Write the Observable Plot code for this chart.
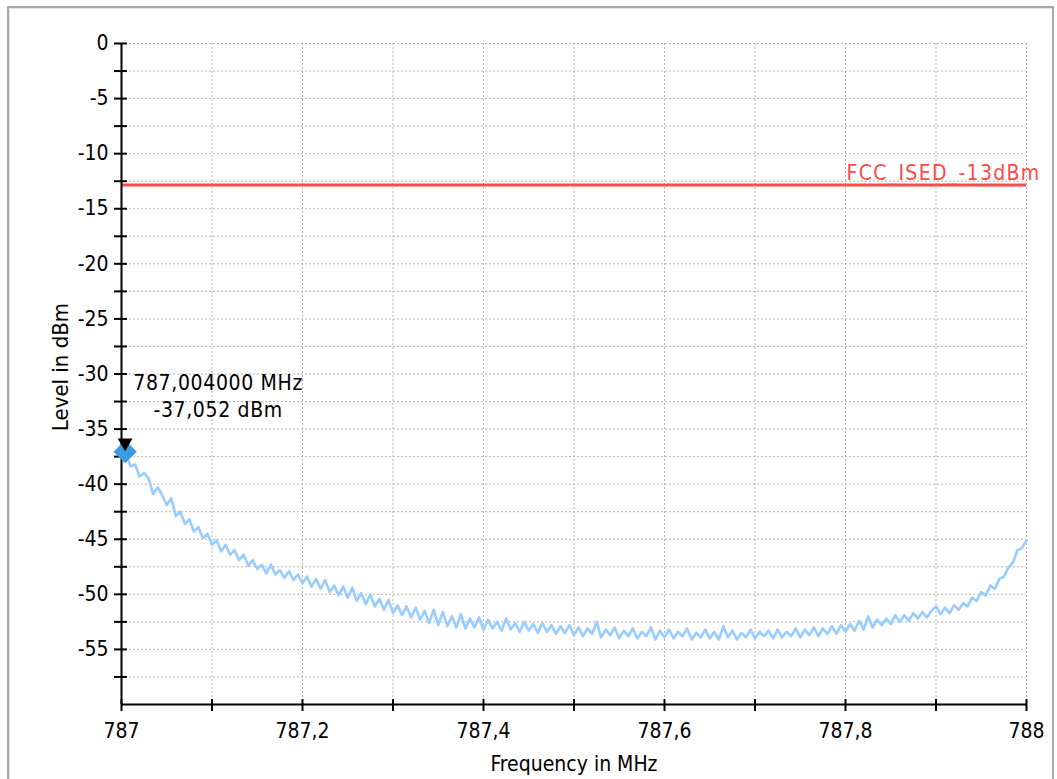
<!DOCTYPE html>
<html>
<head>
<meta charset="utf-8">
<script src="https://cdn.jsdelivr.net/npm/d3@7"></script>
<script src="https://cdn.jsdelivr.net/npm/@observablehq/plot@0.6"></script>
<style>
  html, body { margin: 0; padding: 0; background: #fff; }
  #wrap { position: relative; width: 1057px; height: 779px; overflow: hidden; }
  #frame { position: absolute; left: 7px; top: 6px; width: 1043px; height: 820px;
           border: 2px solid #a9a9a9; box-shadow: inset 1px 1px 0 #e6e6e6; }
  #chart { position: absolute; left: 0; top: 0; }
  svg text { font-family: "DejaVu Sans Condensed", "Liberation Sans Narrow", "Liberation Sans", Arial, sans-serif; }
</style>
</head>
<body>
<div id="wrap"><div id="frame"></div><div id="chart"></div></div>
<script>
// Sweep: 787.000 .. 788.000 MHz, read every 0.005 MHz
const startFreq = 787.0;
const stepFreq = 0.005;
const levels = [
  -37.05,-37.3,-38.4,-38.2,-39.3,-39.0,-39.5,-40.9,-40.3,-41.0,
  -41.9,-41.3,-42.9,-42.5,-43.6,-43.2,-44.3,-43.9,-44.9,-44.5,
  -45.5,-45.1,-46.1,-45.5,-46.4,-46.0,-46.9,-46.4,-47.4,-46.9,
  -47.7,-47.3,-48.1,-47.3,-48.2,-47.8,-48.5,-47.9,-48.7,-48.2,
  -49.0,-48.4,-49.3,-48.6,-49.5,-48.7,-49.8,-49.2,-50.1,-49.3,
  -50.3,-49.4,-50.6,-49.9,-50.9,-50.0,-51.1,-50.4,-51.4,-50.5,
  -51.7,-51.0,-51.9,-51.1,-52.1,-51.2,-52.3,-51.5,-52.6,-51.4,
  -52.8,-51.6,-52.9,-52.0,-53.0,-51.8,-53.1,-52.2,-53.0,-52.1,
  -53.2,-52.3,-53.1,-52.5,-53.3,-52.2,-53.2,-52.6,-53.4,-52.5,
  -53.3,-52.7,-53.5,-52.6,-53.4,-52.8,-53.6,-52.9,-53.5,-52.8,
  -53.7,-53.0,-53.8,-53.1,-53.6,-52.5,-53.9,-53.2,-53.7,-53.0,
  -54.0,-53.3,-53.8,-53.1,-54.0,-53.4,-53.8,-53.0,-54.1,-53.3,
  -53.9,-53.2,-54.0,-53.4,-53.8,-53.1,-54.1,-53.5,-53.9,-53.2,
  -54.0,-53.4,-54.1,-52.9,-53.9,-53.3,-54.1,-53.5,-53.9,-53.2,
  -54.0,-53.4,-53.8,-53.3,-54.0,-53.2,-53.9,-53.4,-53.8,-53.1,
  -53.9,-53.2,-53.7,-53.0,-53.8,-53.1,-53.6,-52.9,-53.6,-52.8,
  -53.4,-52.7,-53.3,-52.4,-53.2,-52.0,-53.0,-52.3,-52.8,-52.2,
  -52.7,-51.9,-52.5,-51.9,-52.4,-51.7,-52.2,-51.6,-52.1,-51.5,
  -51.1,-51.8,-51.2,-51.7,-51.0,-51.4,-50.8,-51.1,-50.3,-50.6,
  -49.8,-50.1,-49.2,-49.5,-48.6,-48.4,-47.6,-47.1,-46.0,-45.8,
  -45.1
];
const yMajorTicks = [0,-5,-10,-15,-20,-25,-30,-35,-40,-45,-50,-55];
const yAllTicks = [0,-2.5,-5,-7.5,-10,-12.5,-15,-17.5,-20,-22.5,-25,-27.5,-30,-32.5,-35,-37.5,-40,-42.5,-45,-47.5,-50,-52.5,-55,-57.5];
const xAllTicks = [787,787.1,787.2,787.3,787.4,787.5,787.6,787.7,787.8,787.9,788];
const xLabelTicks = [787,787.2,787.4,787.6,787.8,788];
const limitLevel = -12.85;
const limitLabel = "FCC_ISED_-13dBm";
const markerFreq = 787.004;
const markerLevel = -37.052;
const markerLines = ["787,004000 MHz", "-37,052 dBm"];
const xTitle = "Frequency in MHz";
const yTitle = "Level in dBm";

const trace = levels.map((v, i) => ({f: startFreq + i * stepFreq, v}));
const comma = d => String(d).replace(".", ",");

const chart = Plot.plot({
  width: 1057,
  height: 779,
  marginLeft: 121,
  marginRight: 31,
  marginTop: 43,
  marginBottom: 75,
  style: {background: "transparent", fontSize: "21px", color: "#000", overflow: "visible"},
  x: {domain: [787, 788], label: null},
  y: {domain: [-60, 0], label: null},
  marks: [
    Plot.gridX(xAllTicks.slice(1), {stroke: "#b4b4b4", strokeOpacity: 1, strokeDasharray: "2,2", strokeWidth: 1}),
    Plot.gridY(yAllTicks, {stroke: "#b4b4b4", strokeOpacity: 1, strokeDasharray: "2,2", strokeWidth: 1}),
    Plot.ruleY([limitLevel], {stroke: "#ff4848", strokeWidth: 3}),
    Plot.text([limitLabel], {x: 788, y: limitLevel, text: d => d, textAnchor: "end", dx: 14, dy: -12, fill: "#ff4848", fontSize: 21}),
    Plot.line(trace, {x: "f", y: "v", stroke: "#99ccff", strokeWidth: 2.6}),
    Plot.ruleX([787], {stroke: "#000", strokeWidth: 2}),
    Plot.ruleY([-60], {stroke: "#000", strokeWidth: 2}),
    Plot.axisY({ticks: yAllTicks, tickSize: 13, dx: 6, text: null, label: null, stroke: "#000", strokeWidth: 2}),
    Plot.axisY({ticks: yMajorTicks, tickSize: 0, tickPadding: 13, tickFormat: d => String(d), fontSize: 21, label: null}),
    Plot.axisX({ticks: xAllTicks, tickSize: 12, dy: -5, text: null, label: null, stroke: "#000", strokeWidth: 2}),
    Plot.axisX({ticks: xLabelTicks, tickSize: 0, tickPadding: 19, tickFormat: comma, fontSize: 21, label: null}),
    Plot.text([xTitle], {frameAnchor: "bottom", dy: 52, lineAnchor: "top", textAnchor: "middle", text: d => d, fontSize: 21, fontFamily: "Liberation Sans, Arial, sans-serif"}),
    Plot.text([yTitle], {frameAnchor: "left", textAnchor: "middle", dx: -61, dy: -7, rotate: -90, text: d => d, fontSize: 22, fontFamily: "Liberation Sans, Arial, sans-serif"}),
    Plot.dot([{f: markerFreq, v: markerLevel}], {x: "f", y: "v", symbol: "diamond2", r: 10, fill: "#3d9be3", stroke: "#3d9be3", strokeWidth: 1}),
    Plot.dot([{f: markerFreq, v: markerLevel}], {x: "f", y: "v", symbol: "triangle", rotate: 180, r: 5.5, fill: "#000", dy: -9}),
    Plot.text([markerLines[0]], {x: markerFreq, y: markerLevel, text: d => d, dx: 93, dy: -68, fontSize: 21}),
    Plot.text([markerLines[1]], {x: markerFreq, y: markerLevel, text: d => d, dx: 93, dy: -41, fontSize: 21})
  ]
});
// widen letter spacing of the red limit label and the marker readout to match the reference
d3.select(chart).selectAll("text").each(function() {
  const t = this.textContent;
  if (t === limitLabel) this.setAttribute("letter-spacing", "1.3px");
  if (markerLines.includes(t)) this.setAttribute("letter-spacing", "0.65px");
});
document.getElementById("chart").appendChild(chart);
</script>
</body>
</html>
